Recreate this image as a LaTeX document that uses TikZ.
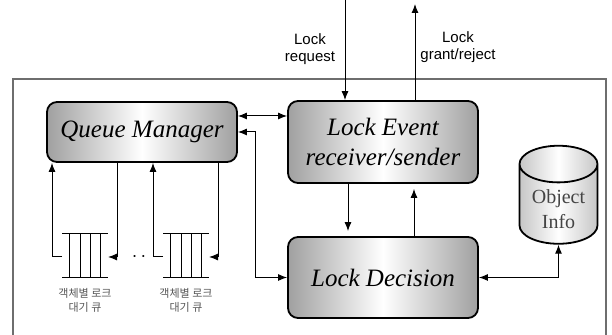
\documentclass[tikz,border=0pt]{standalone}
\usepackage{fontspec}
\setmainfont{Liberation Serif}
\newfontfamily\labelfont{Liberation Sans}
\newfontfamily\korfont{Noto Sans CJK KR}
\usetikzlibrary{arrows.meta,shapes.geometric}
\definecolor{framegray}{RGB}{110,110,110}
\definecolor{boxgray}{RGB}{160,160,160}
\definecolor{textgray}{RGB}{85,85,85}

\begin{document}
\begin{tikzpicture}[x=0.5pt,y=-0.5pt,
    box/.style={draw,line width=0.9pt,rounded corners=5pt,left color=boxgray,right color=boxgray,middle color=white,
      minimum width=95pt,inner sep=0pt,align=center,font=\fontsize{12.5}{15}\selectfont\itshape},
    arr/.style={-{Latex[length=4.5pt,width=3.5pt]},line width=0.5pt},
    arrs/.style={{Latex[length=4.5pt,width=3.5pt]}-{Latex[length=4.5pt,width=3.5pt]},line width=0.5pt},
    msg/.style={font=\labelfont\fontsize{7.5}{8.5}\selectfont,align=center},
    qlabel/.style={font=\korfont\fontsize{5.5}{7}\selectfont,align=center,text=textgray}]
\useasboundingbox (0,0) rectangle (612,335);
% outer frame, open at the bottom
\draw[framegray,line width=1.1pt] (13,340) -- (13,79) -- (606,79) -- (606,340);

\node[box,minimum height=30pt] (qm) at (142,132) {Queue Manager};
\node[box,minimum height=41pt] (le) at (383,142) {Lock Event\\receiver/sender};
\node[box,minimum height=40.5pt] (ld) at (383,277.5) {Lock Decision};
\node[cylinder,shape border rotate=90,draw,line width=0.9pt,aspect=0.55,minimum width=39pt,minimum height=35.5pt,
  left color=boxgray!60,right color=boxgray!60,middle color=white,
  align=center,text=textgray!80!black,font=\fontsize{10}{12.5}\selectfont] (oi) at (558.5,209.5) {Object\\Info};

% messages from/to outside
\node[msg] (req) at (310,49) {Lock\\request};
\node[msg] (grant) at (458,47) {Lock\\grant/reject};
\coordinate (reqin) at (345,0);
\coordinate (grantout) at (415,4);
\draw[arr] (reqin) -- (reqin |- le.north);
\draw[arr] (grantout |- le.north) -- (grantout);

\draw[arrs] (qm.east |- 0,116) -- (le.west |- 0,116);
\coordinate (bend) at (255,132);
\draw[arrs] (qm.east |- bend) -- (bend) -- (bend |- ld.west) -- (ld.west);
\draw[arr,shorten >=2.5pt] (le.south -| 348,0) -- (ld.north -| 348,0);
\draw[arr,shorten >=2.5pt] (ld.north -| 414,0) -- (le.south -| 414,0);
\draw[arrs] (ld.east) -| (oi.south);

% per-object lock wait queues
\foreach \qx/\qn in {62/1,163/2}{
  \draw[line width=0.5pt] (\qx,234) -- ++(46,0) (\qx,278) -- ++(46,0);
  \foreach \dx in {7,18,28,38} \draw[line width=0.5pt] (\qx+\dx,234) -- (\qx+\dx,278);
  \coordinate (out\qn) at (\qx,257);
  \coordinate (in\qn) at (\qx+46,257);
  \coordinate (up\qn) at (\qx-10,257);
  \coordinate (dn\qn) at (\qx+55,257);
  \draw[arr] (out\qn) -- (up\qn) -- (up\qn |- qm.south);
  \draw[arr] (dn\qn |- qm.south) -- (dn\qn) -- (in\qn);
  \node[qlabel] (ql\qn) at (\qx+23,300) {객체별 로크\\대기 큐};
}
\node (dots) at (139,257) {$\cdot\,\cdot$};
\end{tikzpicture}
\end{document}
